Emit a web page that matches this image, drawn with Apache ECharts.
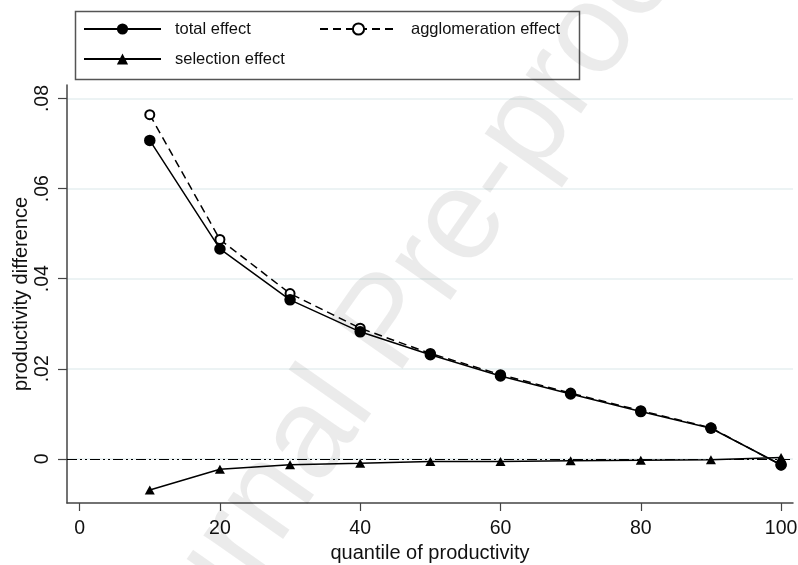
<!DOCTYPE html>
<html>
<head>
<meta charset="utf-8">
<script src="https://cdn.jsdelivr.net/npm/echarts@6/dist/echarts.min.js"></script>
<style>
html,body{margin:0;padding:0;background:#fff;}
#chart{width:798px;height:565px;}
</style>
</head>
<body>
<div id="chart"></div>
<script>
const quantiles = [10, 20, 30, 40, 50, 60, 70, 80, 90, 100];
const totalEffect = [0.0707, 0.0466, 0.0353, 0.0282, 0.0231, 0.0184, 0.0144, 0.0105, 0.0068, -0.0013];
const agglomerationEffect = [0.0764, 0.0487, 0.0367, 0.0290, 0.0234, 0.0187, 0.0146, 0.0107, 0.0069, -0.0014];
const selectionEffect = [-0.0069, -0.0023, -0.0013, -0.0010, -0.0006, -0.0006, -0.0004, -0.0003, -0.0002, 0.0003];
const xTicks = [0, 20, 40, 60, 80, 100];
const yTicks = [0, 0.02, 0.04, 0.06, 0.08];
const seriesNames = ['total effect', 'agglomeration effect', 'selection effect'];

const FONT = '"Liberation Sans", Arial, sans-serif';
const pairs = ys => quantiles.map((q, i) => [q, ys[i]]);

const chart = echarts.init(document.getElementById('chart'), null, {renderer: 'canvas'});
const legendText = {fontFamily: FONT, fontSize: 16.5, color: '#111', lineHeight: 18, padding: [0, 0, 0, 9]};

chart.setOption({
  animation: false,
  backgroundColor: '#fff',
  grid: {left: 67, right: 5, top: 85, bottom: 62, containLabel: false, outerBoundsMode: 'none'},
  legend: [
    {
      data: [seriesNames[0], seriesNames[2]],
      orient: 'vertical', left: 83, top: 20, padding: 0,
      itemWidth: 77, itemHeight: 14, itemGap: 12,
      textStyle: legendText, selectedMode: false
    },
    {
      data: [seriesNames[1]],
      orient: 'vertical', left: 319, top: 20, padding: 0,
      itemWidth: 77, itemHeight: 14, itemGap: 12,
      textStyle: legendText, selectedMode: false
    }
  ],
  graphic: [
    {
      type: 'rect', left: 73, top: 9, z: 0, silent: true,
      shape: {width: 504, height: 68},
      style: {fill: 'none', stroke: '#555', lineWidth: 1.5}
    },
    {
      type: 'text', x: 390, y: 325, rotation: 55 * Math.PI / 180, z: 100, silent: true,
      style: {text: 'Journal Pre-proof', font: '128px ' + FONT, fill: 'rgba(0,0,0,0.08)', align: 'center', verticalAlign: 'middle'}
    }
  ],
  xAxis: {
    type: 'value', min: -1.8, max: 101.7,
    name: 'quantile of productivity', nameLocation: 'middle', nameGap: 36,
    nameTextStyle: {fontFamily: FONT, fontSize: 20, color: '#111'},
    axisLine: {show: true, onZero: false, lineStyle: {color: '#444', width: 1.5}},
    axisTick: {show: true, length: 8, customValues: xTicks, lineStyle: {color: '#444', width: 1.2}},
    axisLabel: {customValues: xTicks, fontFamily: FONT, fontSize: 19.5, color: '#111', margin: 16},
    splitLine: {show: false}
  },
  yAxis: {
    type: 'value', min: -0.0098, max: 0.083,
    name: 'productivity difference', nameLocation: 'middle', nameGap: 36, nameMoveOverlap: false,
    nameTextStyle: {fontFamily: FONT, fontSize: 20, color: '#111'},
    axisLine: {show: true, onZero: false, lineStyle: {color: '#444', width: 1.5}},
    axisTick: {show: true, length: 9, customValues: yTicks, lineStyle: {color: '#444', width: 1.2}},
    axisLabel: {
      customValues: yTicks, rotate: 90, fontFamily: FONT, fontSize: 19.5, color: '#111', margin: 14,
      formatter: v => (v === 0 ? '0' : String(+v.toFixed(2)).replace(/^0\./, '.'))
    },
    splitLine: {show: true, lineStyle: {color: '#e6eff1', width: 1.5}}
  },
  series: [
    {
      name: seriesNames[1], type: 'line', data: pairs(agglomerationEffect),
      symbol: 'emptyCircle', symbolSize: 9, showAllSymbol: true,
      lineStyle: {color: '#000', width: 1.5, type: [8, 5]},
      itemStyle: {color: '#000', borderColor: '#000', borderWidth: 1.3},
      z: 3
    },
    {
      name: seriesNames[0], type: 'line', data: pairs(totalEffect),
      symbol: 'circle', symbolSize: 11.5,
      lineStyle: {color: '#000', width: 1.5},
      itemStyle: {color: '#000'},
      z: 4
    },
    {
      name: seriesNames[2], type: 'line', data: pairs(selectionEffect),
      symbol: 'triangle', symbolSize: [10, 9],
      lineStyle: {color: '#000', width: 1.5},
      itemStyle: {color: '#000'},
      z: 5,
      markLine: {
        silent: true, symbol: 'none', label: {show: false},
        lineStyle: {color: '#000', width: 1.2, type: [10, 3, 2, 3, 2, 3]},
        data: [{yAxis: 0}]
      }
    }
  ]
});
</script>
</body>
</html>
